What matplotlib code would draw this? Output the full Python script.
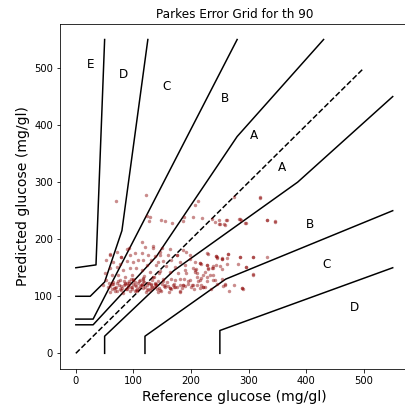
import matplotlib
matplotlib.use("Agg")
import matplotlib.pyplot as plt

# Zone boundaries (Parkes type 1)
a_upper_x = [0, 30, 140, 280, 430]
a_upper_y = [50, 50, 170, 380, 550]
a_lower_x = [50, 50, 170, 385, 550]
a_lower_y = [0, 30, 145, 300, 450]
b_upper_x = [0, 30, 280]
b_upper_y = [60, 60, 550]
b_lower_x = [120, 120, 260, 550]
b_lower_y = [0, 30, 130, 250]
c_upper_x = [0, 25, 50, 80, 125]
c_upper_y = [100, 100, 125, 215, 550]
c_lower_x = [250, 250, 550]
c_lower_y = [0, 40, 150]
d_upper_x = [0, 35, 50]
d_upper_y = [150, 155, 550]
diag_x = [0, 500]
diag_y = [0, 500]

zone_labels = ["E", "D", "C", "B", "A", "A", "B", "C", "D"]
zone_label_x = [26, 83, 158, 259, 309, 358, 406, 436, 483]
zone_label_y = [507, 488, 467, 447, 382, 326, 225, 156, 81]

# Measurements (reference, predicted)
ref_vals = [
    69, 121, 207, 212, 274, 319, 123, 128, 127, 148, 154, 167, 186, 188, 203, 219,
    236, 241, 248, 260, 257, 285, 293, 332, 345,
    229, 245, 253, 264, 215, 227, 238, 250, 262, 189, 207, 210, 233, 220, 215, 212,
    227, 194, 201, 186, 181, 172, 163,
    244, 245, 253, 262, 285, 308, 282, 296, 308, 218, 227, 236, 238, 243, 230, 253,
    224, 238, 217, 227, 241, 253, 259, 218, 221, 288,
    120, 134, 149, 163, 114, 126, 137, 146, 160, 175, 192, 198, 117, 131, 143, 152,
    166, 181, 198, 207, 123, 140, 157, 172, 189, 204, 114, 128, 146, 163, 178, 192,
    207, 117, 134, 152, 166, 181, 198, 210, 114, 123, 137, 155, 169, 186, 204, 117,
    131, 146, 163, 181,
    59, 71, 79, 88, 94, 102, 53, 65, 76, 88, 99, 108, 59, 71, 82, 94, 105, 50, 62,
    73, 85, 97, 53, 65, 76, 88, 99, 47, 56, 68, 79, 91, 102, 59, 71, 82, 94, 105,
    60, 65, 70, 75, 80, 85, 90, 95, 100, 105, 110, 115, 120, 125, 130, 135, 140, 145,
    150, 155, 160, 165, 170, 175, 180, 185, 190, 195, 200, 88, 98, 108, 118, 128,
    138, 148, 158, 92, 112, 132, 78, 102, 122, 142, 162, 72, 84, 96, 116, 136, 152,
    172, 188, 205, 210, 215, 225, 235, 245, 255, 265, 275, 290, 62, 68,
    114, 134, 92, 59, 78, 146, 175, 186, 227, 264, 285, 307, 331, 243, 253,
    296, 307, 288, 259, 221, 238, 208, 230, 215,
    286, 295, 331, 345, 319, 249, 250, 259, 262, 284,
    63, 67, 74, 83, 87, 93, 97, 103, 107, 113, 117, 123, 127, 133, 139, 143, 153,
    57, 77, 86, 106, 111, 131, 141, 171, 99, 109, 119, 126, 144,
]
pred_vals = [
    267, 277, 260, 267, 274, 274, 240, 239, 232, 233, 232, 228, 232, 239, 239, 237,
    235, 230, 226, 233, 226, 235, 228, 233, 230,
    174, 168, 167, 174, 158, 154, 149, 153, 156, 146, 146, 140, 137, 137, 128, 126,
    126, 126, 119, 119, 109, 116, 114,
    171, 167, 166, 167, 169, 169, 156, 151, 138, 157, 155, 150, 153, 154, 147, 147,
    143, 138, 132, 134, 128, 131, 120, 119, 116, 115,
    186, 185, 185, 182, 175, 172, 171, 172, 173, 172, 177, 172, 163, 163, 160, 161,
    163, 160, 166, 160, 154, 154, 153, 151, 154, 149, 146, 143, 144, 143, 140, 140,
    143, 131, 134, 131, 131, 131, 128, 134, 119, 120, 122, 119, 120, 119, 120, 114,
    115, 111, 114, 108,
    172, 178, 169, 182, 172, 175, 163, 160, 157, 161, 160, 163, 149, 151, 146, 149,
    150, 140, 137, 138, 134, 137, 128, 125, 128, 124, 128, 119, 116, 115, 118, 116,
    119, 108, 109, 106, 109, 111,
    118, 121, 117, 120, 115, 122, 119, 116, 121, 118, 115, 121, 117, 113, 120, 116,
    119, 114, 121, 116, 118, 113, 122, 117, 120, 114, 118, 122, 116, 112, 113, 124,
    125, 111, 124, 110, 125, 126, 128, 129, 111, 110, 108, 107, 108, 124, 127, 130,
    132, 133, 127, 128, 130, 112, 120, 114, 117, 113, 121, 118, 110, 119, 112, 112,
    109,
    195, 188, 184, 174, 169, 178, 172, 181, 175, 174, 169, 169, 168, 170, 166,
    151, 139, 115, 122, 116, 129, 147, 150, 158,
    234, 229, 234, 232, 272, 233, 226, 225, 233, 235,
    121, 114, 126, 119, 112, 123, 117, 125, 113, 119, 126, 111, 123, 117, 121, 126,
    118, 123, 113, 124, 109, 118, 122, 113, 117, 131, 127, 135, 123, 141,
]

fig = plt.figure(figsize=(405 / 72, 415 / 72), dpi=72)
ax = fig.add_axes([0.1481, 0.1108, 0.8607, 0.8318])

ax.scatter(ref_vals, pred_vals, s=12, color="darkred", alpha=0.45, linewidths=0,
           zorder=3)

for xs, ys in [(a_upper_x, a_upper_y), (a_lower_x, a_lower_y),
               (b_upper_x, b_upper_y), (b_lower_x, b_lower_y),
               (c_upper_x, c_upper_y), (c_lower_x, c_lower_y),
               (d_upper_x, d_upper_y)]:
    ax.plot(xs, ys, color="black", linewidth=1.5, zorder=2)
ax.plot(diag_x, diag_y, color="black", linestyle="--", linewidth=1.5, zorder=2)

for lab, lx, ly in zip(zone_labels, zone_label_x, zone_label_y):
    ax.text(lx, ly, lab, fontsize=12, ha="center", va="center")

ax.set_xlim(-27.5, 577.5)
ax.set_ylim(-27.5, 577.5)
ax.set_xticks([0, 100, 200, 300, 400, 500])
ax.set_yticks([0, 100, 200, 300, 400, 500])
ax.set_xlabel("Reference glucose (mg/gl)", fontsize=14)
ax.set_ylabel("Predicted glucose (mg/gl)", fontsize=14)
ax.set_title("Parkes Error Grid for th 90", fontsize=12)

fig.savefig("out.png", dpi=72)
